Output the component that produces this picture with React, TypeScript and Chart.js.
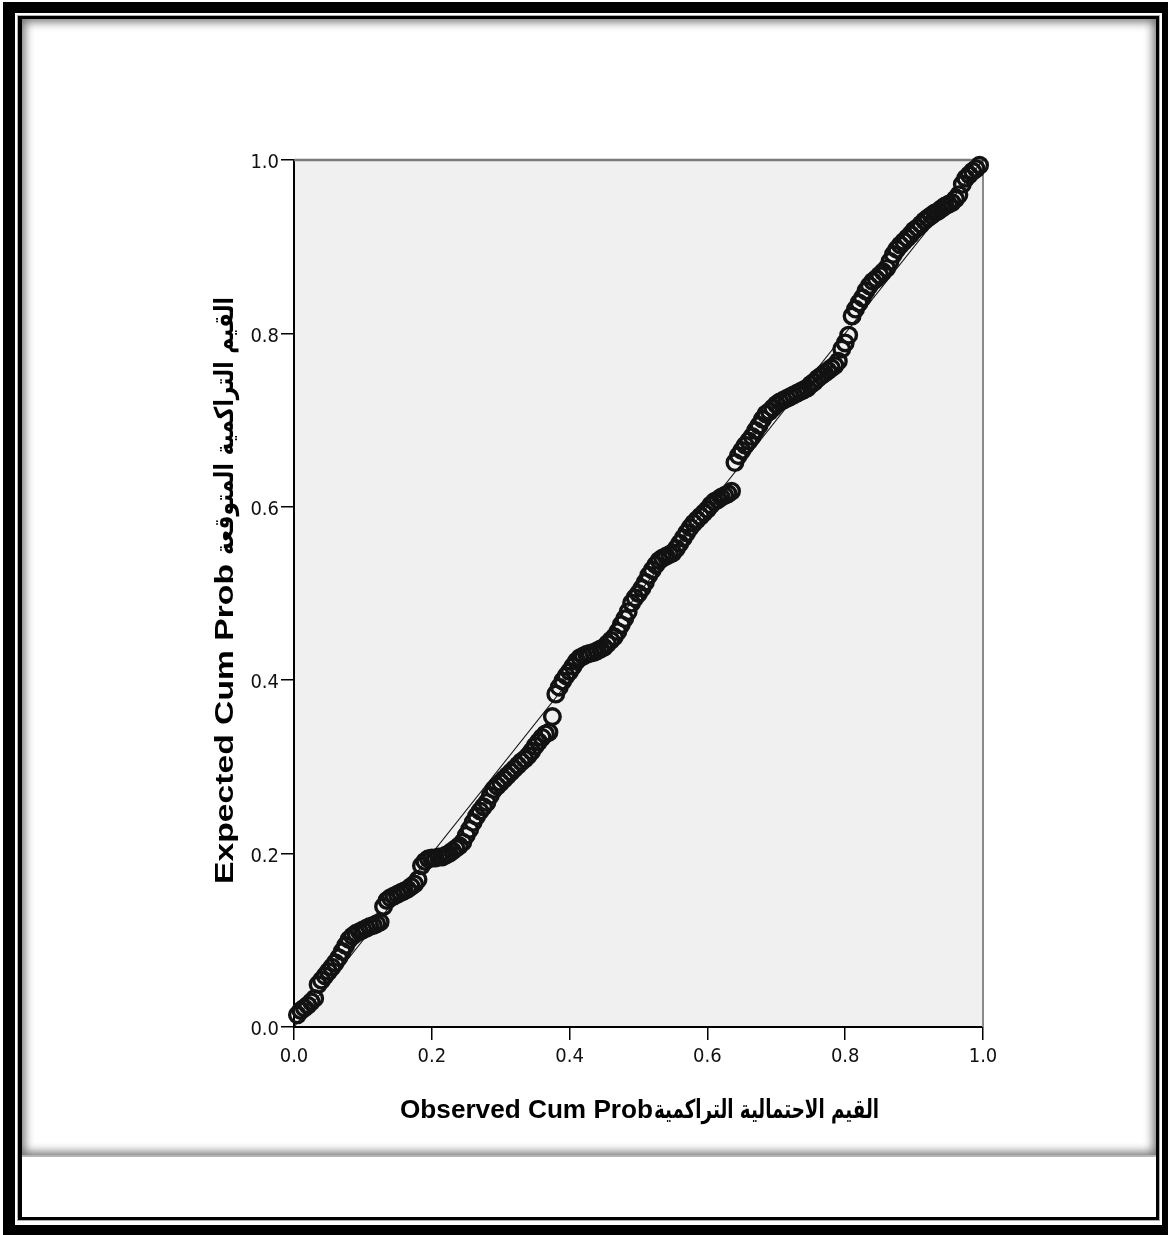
import React, { useEffect, useRef } from "react";
import { Chart, registerables } from "chart.js";

Chart.register(...registerables);

// Observed cumulative probability (x) of each case
const observedCumProb = [
  0.005, 0.010, 0.015, 0.020, 0.025, 0.030, 0.035, 0.040, 0.045, 0.050,
  0.055, 0.060, 0.065, 0.070, 0.075, 0.080, 0.085, 0.090, 0.095, 0.100,
  0.105, 0.110, 0.115, 0.120, 0.125, 0.130, 0.135, 0.140, 0.145, 0.150,
  0.155, 0.160, 0.165, 0.170, 0.175, 0.180, 0.185, 0.190, 0.195, 0.200,
  0.205, 0.210, 0.215, 0.220, 0.225, 0.230, 0.235, 0.240, 0.245, 0.250,
  0.255, 0.260, 0.265, 0.270, 0.275, 0.280, 0.285, 0.290, 0.295, 0.300,
  0.305, 0.310, 0.315, 0.320, 0.325, 0.330, 0.335, 0.340, 0.345, 0.350,
  0.355, 0.360, 0.365, 0.370, 0.375, 0.380, 0.385, 0.390, 0.395, 0.400,
  0.405, 0.410, 0.415, 0.420, 0.425, 0.430, 0.435, 0.440, 0.445, 0.450,
  0.455, 0.460, 0.465, 0.470, 0.475, 0.480, 0.485, 0.490, 0.495, 0.500,
  0.505, 0.510, 0.515, 0.520, 0.525, 0.530, 0.535, 0.540, 0.545, 0.550,
  0.555, 0.560, 0.565, 0.570, 0.575, 0.580, 0.585, 0.590, 0.595, 0.600,
  0.605, 0.610, 0.615, 0.620, 0.625, 0.630, 0.635, 0.640, 0.645, 0.650,
  0.655, 0.660, 0.665, 0.670, 0.675, 0.680, 0.685, 0.690, 0.695, 0.700,
  0.705, 0.710, 0.715, 0.720, 0.725, 0.730, 0.735, 0.740, 0.745, 0.750,
  0.755, 0.760, 0.765, 0.770, 0.775, 0.780, 0.785, 0.790, 0.795, 0.800,
  0.805, 0.810, 0.815, 0.820, 0.825, 0.830, 0.835, 0.840, 0.845, 0.850,
  0.855, 0.860, 0.865, 0.870, 0.875, 0.880, 0.885, 0.890, 0.895, 0.900,
  0.905, 0.910, 0.915, 0.920, 0.925, 0.930, 0.935, 0.940, 0.945, 0.950,
  0.955, 0.960, 0.965, 0.970, 0.975, 0.980, 0.985, 0.990, 0.995,
];

// Expected cumulative probability (y) of each case
const expectedCumProb = [
  0.014, 0.019, 0.022, 0.025, 0.029, 0.033, 0.049, 0.054, 0.059, 0.064,
  0.069, 0.074, 0.080, 0.087, 0.094, 0.101, 0.105, 0.108, 0.110, 0.112,
  0.114, 0.116, 0.117, 0.119, 0.121, 0.139, 0.146, 0.149, 0.151, 0.153,
  0.155, 0.157, 0.159, 0.162, 0.165, 0.170, 0.186, 0.191, 0.194, 0.195,
  0.195, 0.196, 0.196, 0.198, 0.200, 0.203, 0.206, 0.209, 0.213, 0.221,
  0.228, 0.236, 0.243, 0.249, 0.254, 0.259, 0.267, 0.274, 0.278, 0.282,
  0.286, 0.290, 0.294, 0.298, 0.302, 0.306, 0.309, 0.313, 0.318, 0.324,
  0.329, 0.334, 0.338, 0.340, 0.358, 0.384, 0.392, 0.399, 0.405, 0.410,
  0.416, 0.422, 0.426, 0.428, 0.430, 0.431, 0.432, 0.434, 0.436, 0.438,
  0.442, 0.446, 0.450, 0.456, 0.464, 0.471, 0.479, 0.489, 0.495, 0.500,
  0.506, 0.513, 0.521, 0.527, 0.533, 0.538, 0.541, 0.543, 0.545, 0.547,
  0.552, 0.558, 0.564, 0.570, 0.576, 0.581, 0.585, 0.589, 0.593, 0.597,
  0.602, 0.606, 0.608, 0.611, 0.613, 0.615, 0.618, 0.651, 0.659, 0.665,
  0.671, 0.676, 0.681, 0.688, 0.694, 0.701, 0.707, 0.710, 0.714, 0.718,
  0.721, 0.723, 0.725, 0.727, 0.729, 0.731, 0.733, 0.735, 0.737, 0.741,
  0.744, 0.748, 0.751, 0.754, 0.757, 0.760, 0.763, 0.768, 0.782, 0.789,
  0.798, 0.820, 0.828, 0.835, 0.841, 0.849, 0.855, 0.860, 0.863, 0.867,
  0.871, 0.875, 0.883, 0.891, 0.897, 0.902, 0.906, 0.910, 0.914, 0.919,
  0.922, 0.926, 0.930, 0.933, 0.936, 0.939, 0.941, 0.944, 0.947, 0.949,
  0.951, 0.955, 0.960, 0.972, 0.979, 0.983, 0.987, 0.990, 0.994,
];

// Diagonal reference line (expected = observed)
const referenceX = [0, 1];
const referenceY = [0, 1];

const axisMin = 0;
const axisMax = 1;
const tickStep = 0.2;

const xTitleLatin = "Observed Cum Prob";
const xTitleArabic = "\u0627\u0644\u0642\u064a\u0645 \u0627\u0644\u0627\u062d\u062a\u0645\u0627\u0644\u064a\u0629 \u0627\u0644\u062a\u0631\u0627\u0643\u0645\u064a\u0629";
const yTitleLatin = "Expected Cum Prob";
const yTitleArabic = "\u0627\u0644\u0642\u064a\u0645 \u0627\u0644\u062a\u0631\u0627\u0643\u0645\u064a\u0629 \u0627\u0644\u0645\u062a\u0648\u0642\u0639\u0629";

const tickFont = "'Liberation Sans Narrow', 'Arial Narrow', 'DejaVu Sans Condensed', sans-serif";
const latinTitleFont = "bold 26px 'Liberation Sans', Arial, sans-serif";
const arabicTitleFont = "bold 26px 'DejaVu Sans', sans-serif";

function drawTwoPartTitle(
  ctx: CanvasRenderingContext2D,
  latin: string,
  arabic: string,
  cx: number,
  cy: number,
  rotation: number,
  latinTarget: number,
  arabicTarget: number,
  gap: number
) {
  ctx.save();
  ctx.translate(cx, cy);
  ctx.rotate(rotation);
  ctx.fillStyle = "#000";
  ctx.textAlign = "left";
  ctx.textBaseline = "alphabetic";
  ctx.direction = "ltr";
  ctx.font = latinTitleFont;
  const rawL = ctx.measureText(latin).width;
  ctx.font = arabicTitleFont;
  const rawA = ctx.measureText(arabic).width;
  const sL = latinTarget / rawL;
  const sA = arabicTarget / rawA;
  const total = latinTarget + gap + arabicTarget;
  let x = -total / 2;
  ctx.save();
  ctx.translate(x, 0);
  ctx.scale(sL, 1);
  ctx.font = latinTitleFont;
  ctx.fillText(latin, 0, 0);
  ctx.restore();
  x += latinTarget + gap;
  ctx.save();
  ctx.translate(x, 0);
  ctx.scale(sA, 1);
  ctx.font = arabicTitleFont;
  ctx.fillText(arabic, 0, 0);
  ctx.restore();
  ctx.restore();
}

const plotDecor = {
  id: "plotDecor",
  beforeDraw(chart: any) {
    const { ctx, chartArea } = chart;
    if (!chartArea) return;
    ctx.save();
    ctx.fillStyle = "#f0f0f0";
    ctx.fillRect(chartArea.left, chartArea.top, chartArea.right - chartArea.left, chartArea.bottom - chartArea.top);
    ctx.restore();
  },
  beforeDatasetsDraw(chart: any) {
    const { ctx, chartArea } = chart;
    ctx.save();
    ctx.strokeStyle = "#7a7a7a";
    ctx.lineWidth = 2.5;
    ctx.beginPath();
    ctx.moveTo(chartArea.left, chartArea.top);
    ctx.lineTo(chartArea.right, chartArea.top);
    ctx.stroke();
    ctx.strokeStyle = "#8a8a8a";
    ctx.lineWidth = 2;
    ctx.beginPath();
    ctx.moveTo(chartArea.right, chartArea.top);
    ctx.lineTo(chartArea.right, chartArea.bottom);
    ctx.stroke();
    ctx.restore();
  },
  afterDraw(chart: any) {
    const { ctx, chartArea } = chart;
    const cx = (chartArea.left + chartArea.right) / 2;
    const cy = (chartArea.top + chartArea.bottom) / 2;
    drawTwoPartTitle(ctx, xTitleLatin, xTitleArabic, cx + 1, chartArea.bottom + 91, 0, 253, 225, 1);
    drawTwoPartTitle(ctx, yTitleLatin, yTitleArabic, chartArea.left - 61, cy - 3, -Math.PI / 2, 320, 258, 9);
  },
};

function ChartCanvas() {
  const ref = useRef<HTMLCanvasElement | null>(null);
  useEffect(() => {
    if (!ref.current) return;
    const points = observedCumProb.map((x, i) => ({ x, y: expectedCumProb[i] }));
    const refLine = referenceX.map((x, i) => ({ x, y: referenceY[i] }));
    const chart = new Chart(ref.current, {
      type: "scatter",
      data: {
        datasets: [
          {
            label: "reference",
            data: refLine,
            showLine: true,
            borderColor: "#111",
            borderWidth: 1.2,
            pointRadius: 0,
            pointHoverRadius: 0,
            clip: false,
          } as any,
          {
            label: "cases",
            data: points,
            pointRadius: 7.8,
            pointHoverRadius: 7.8,
            pointBorderWidth: 3.4,
            borderColor: "#121212",
            backgroundColor: "rgba(255,255,255,0)",
            clip: false,
          } as any,
        ],
      },
      options: {
        animation: false,
        responsive: false,
        events: [],
        layout: { padding: { left: 200, top: 160, right: 185, bottom: 0 } },
        plugins: { legend: { display: false }, tooltip: { enabled: false } },
        scales: {
          x: {
            type: "linear",
            min: axisMin,
            max: axisMax,
            afterFit: (s: any) => { s.height = 208; },
            border: { display: true, color: "#000", width: 2 },
            grid: { drawOnChartArea: false, drawTicks: true, tickLength: 13, color: "#000", lineWidth: 1.5 },
            ticks: {
              stepSize: tickStep,
              padding: 5,
              color: "#111",
              font: { family: tickFont, size: 20 },
              maxRotation: 0,
              callback: (v: any) => Number(v).toFixed(1),
            },
            title: { display: false, text: xTitleLatin + xTitleArabic },
          },
          y: {
            type: "linear",
            min: axisMin,
            max: axisMax,
            afterFit: (s: any) => { s.width = 94; },
            border: { display: true, color: "#000", width: 2 },
            grid: { drawOnChartArea: false, drawTicks: true, tickLength: 13, color: "#000", lineWidth: 1.5 },
            ticks: {
              stepSize: tickStep,
              padding: 2,
              labelOffset: 3,
              color: "#111",
              font: { family: tickFont, size: 20 },
              callback: (v: any) => Number(v).toFixed(1),
            },
            title: { display: false, text: yTitleLatin + " " + yTitleArabic },
          },
        },
      },
      plugins: [plotDecor],
    });
    return () => chart.destroy();
  }, []);
  return (
    <canvas
      ref={ref}
      width={1168}
      height={1235}
      style={{ position: "absolute", left: 0, top: 0, width: 1168, height: 1235, display: "block" }}
    />
  );
}

export default function App() {
  return (
    <div
      style={{
        position: "absolute",
        left: 0,
        top: 0,
        width: 1168,
        height: 1235,
        overflow: "hidden",
        background: "#fff",
      }}
    >
      <div
        style={{
          position: "absolute",
          left: 3,
          top: 2,
          width: 1171,
          height: 1235,
          boxSizing: "border-box",
          borderStyle: "solid",
          borderColor: "#000",
          borderWidth: "11px 12px 12px 12px",
        }}
      />
      <div
        style={{
          position: "absolute",
          left: 18,
          top: 16,
          width: 1141,
          height: 1204,
          boxSizing: "border-box",
          borderStyle: "solid",
          borderColor: "#000",
          borderWidth: "3px 3px 3px 4px",
          outline: "1px solid #b0b0b0",
          background: "#fff",
        }}
      />
      <div
        style={{
          position: "absolute",
          left: 22,
          top: 19,
          width: 1134,
          height: 1138,
          boxSizing: "border-box",
          borderBottom: "2px solid #b5b5b5",
          boxShadow: "inset 0 0 10px 3px rgba(0,0,0,0.55)",
        }}
      />
      <ChartCanvas />
    </div>
  );
}
